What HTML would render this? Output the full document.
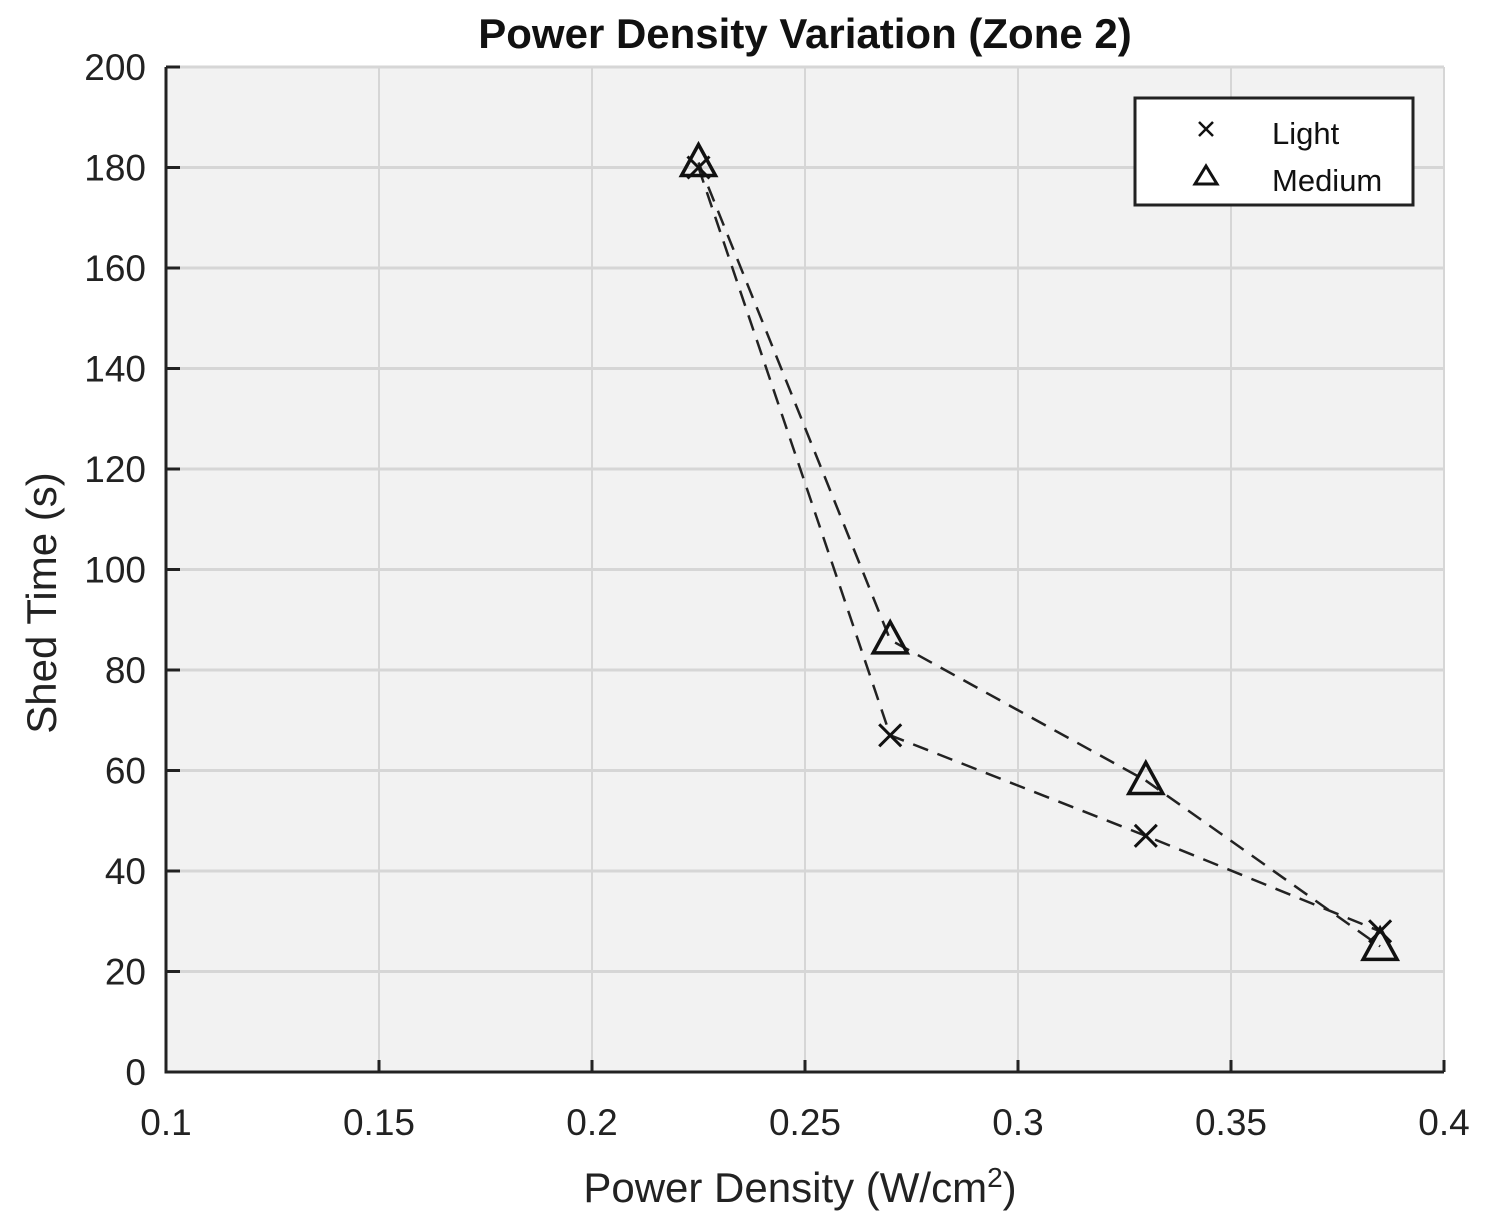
<!DOCTYPE html>
<html><head><meta charset="utf-8"><style>
body{margin:0;background:#fff;}
svg{display:block;font-family:"Liberation Sans",Arial,sans-serif;}
</style></head><body>
<svg id="chart" width="1492" height="1225" viewBox="0 0 1492 1225">
<rect x="166" y="67" width="1278" height="1005" fill="#f2f2f2"/>
<g id="grid"></g>
<g id="axes"></g>
<g id="series"></g>
<text x="805" y="48" text-anchor="middle" font-size="42" font-weight="bold" fill="#111">Power Density Variation (Zone 2)</text>
<text x="800" y="1202" text-anchor="middle" font-size="42" fill="#222">Power Density (W/cm<tspan dy="-15" font-size="28">2</tspan><tspan dy="15">)</tspan></text>
<text transform="translate(56,603) rotate(-90)" text-anchor="middle" font-size="42" fill="#222">Shed Time (s)</text>
<g>
<rect x="1135" y="98" width="278" height="107" fill="#fff" stroke="#222" stroke-width="3"/>
<g>
<path d="M1199,122 l14,14 M1213,122 l-14,14" stroke="#111" stroke-width="2.5"/>
<text x="1272" y="144" font-size="31" fill="#111">Light</text></g>
<g>
<path d="M1206,166 l-11,18 h22 z" fill="none" stroke="#111" stroke-width="3"/>
<text x="1272" y="191" font-size="31" fill="#111">Medium</text></g>
</g>
</svg>
<script>
const xTicks=[0.1,0.15,0.2,0.25,0.3,0.35,0.4];
const xTickLabels=["0.1","0.15","0.2","0.25","0.3","0.35","0.4"];
const yTicks=[0,20,40,60,80,100,120,140,160,180,200];
const xValues=[0.225,0.27,0.33,0.385];
const lightValues=[180,67,47,28];
const mediumValues=[181,86,58,25];
const NS="http://www.w3.org/2000/svg";
const X0=166,X1=1444,Y0=1072,Y1=67;
const sx=v=>X0+(v-0.1)/0.3*(X1-X0);
const sy=v=>Y0-v/200*(Y0-Y1);
function mk(t,a,p){const e=document.createElementNS(NS,t);for(const k in a)e.setAttribute(k,a[k]);p.appendChild(e);return e;}
const grid=document.getElementById('grid'),axes=document.getElementById('axes'),ser=document.getElementById('series');
xTicks.forEach((t,i)=>{
 const l=mk('line',{x1:sx(t),x2:sx(t),y1:Y1,y2:Y0,stroke:'#d6d6d6','stroke-width':2},grid);
 
 
 const k=mk('line',{x1:sx(t),x2:sx(t),y1:Y0,y2:Y0-12,stroke:'#222','stroke-width':3},axes);
 
 
 const tx=mk('text',{x:sx(t),y:1135,'text-anchor':'middle','font-size':37,fill:'#222'},axes);
 tx.textContent=xTickLabels[i];
 
 
});
yTicks.forEach(t=>{
 const l=mk('line',{x1:X0,x2:X1,y1:sy(t),y2:sy(t),stroke:'#d6d6d6','stroke-width':3},grid);
 
 
 const k=mk('line',{x1:X0,x2:X0+14,y1:sy(t),y2:sy(t),stroke:'#222','stroke-width':3},axes);
 
 
 const tx=mk('text',{x:146,y:sy(t)+13,'text-anchor':'end','font-size':37,fill:'#222'},axes);
 tx.textContent=String(t);
 
 
});
const ax=mk('path',{d:`M${X0},${Y1} V${Y0} H${X1}`,fill:'none',stroke:'#222','stroke-width':3},axes);


function line(vals,name){
 const d=vals.map((v,i)=>(i?'L':'M')+sx(xValues[i])+','+sy(v)).join(' ');
 const p=mk('path',{d,fill:'none',stroke:'#222','stroke-width':2.5,'stroke-dasharray':'16,10'},ser);
 
 
}
line(lightValues,'light-line');
line(mediumValues,'medium-line');
lightValues.forEach((v,i)=>{
 const x=sx(xValues[i]),y=sy(v);
 const m=mk('path',{d:`M${x-11},${y-11} L${x+11},${y+11} M${x+11},${y-11} L${x-11},${y+11}`,stroke:'#111','stroke-width':3},ser);
 
 
});
mediumValues.forEach((v,i)=>{
 const x=sx(xValues[i]),y=sy(v);
 const m=mk('path',{d:`M${x},${y-18} L${x-17},${y+13} L${x+17},${y+13} Z`,fill:'none',stroke:'#111','stroke-width':3.5},ser);
 
 
});
</script>
</body></html>
